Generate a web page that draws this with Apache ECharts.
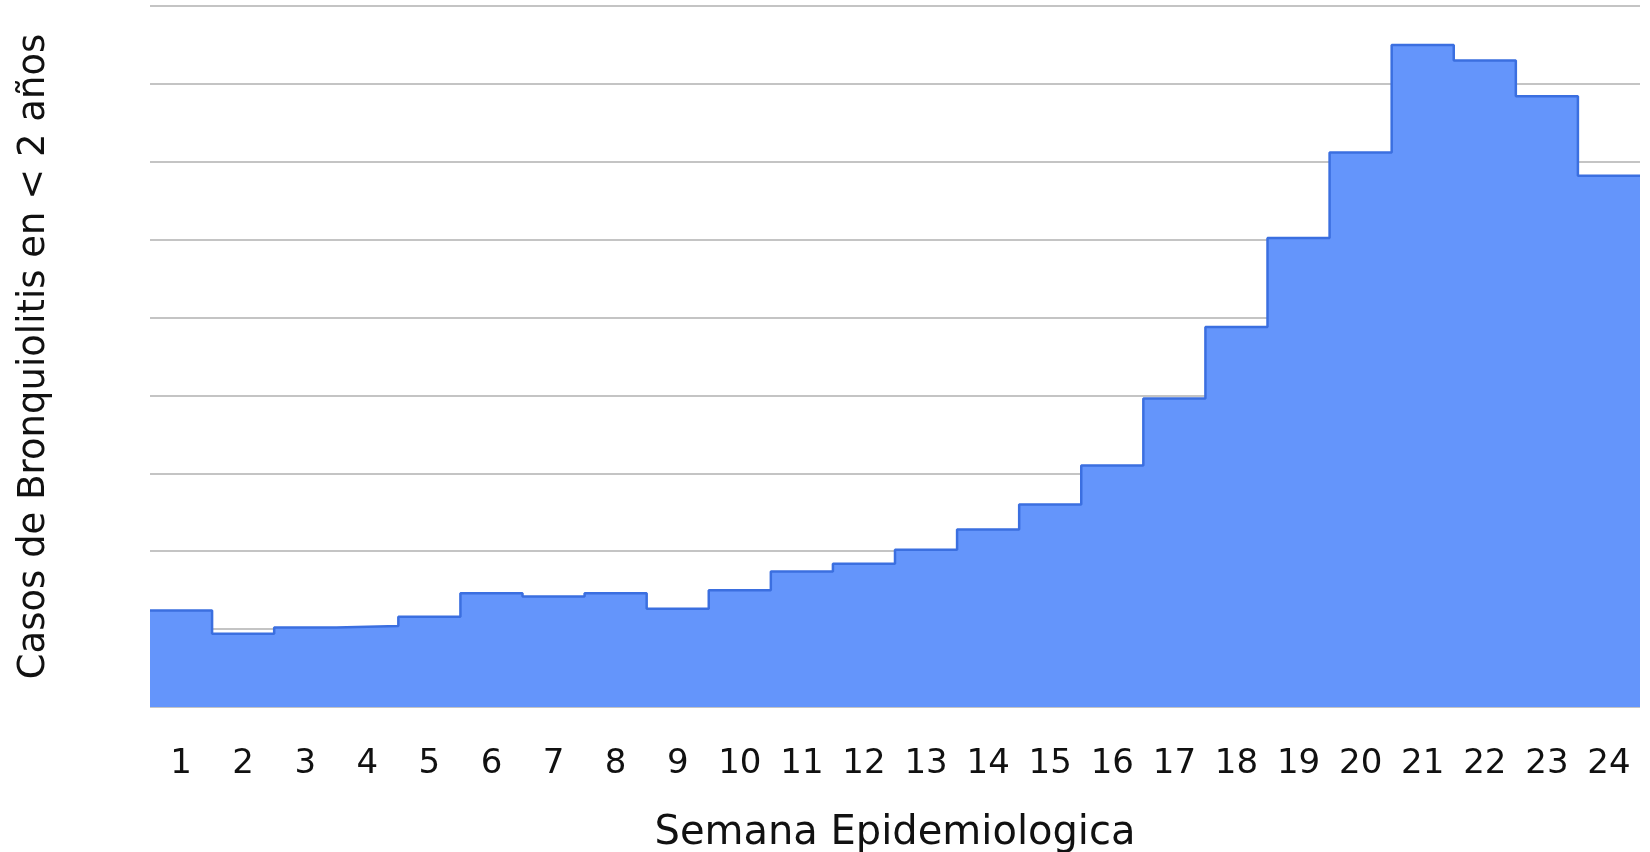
<!DOCTYPE html>
<html>
<head>
<meta charset="utf-8">
<script src="https://cdn.jsdelivr.net/npm/echarts@6/dist/echarts.min.js"></script>
<style>
html,body{margin:0;padding:0;background:#fff;}
#chart{width:1650px;height:852px;}
</style>
</head>
<body>
<div id="chart"></div>
<script>
// Epidemiological weeks
var weeks = ['1','2','3','4','5','6','7','8','9','10','11','12','13','14','15','16','17','18','19','20','21','22','23','24'];
// Cases (estimated, axis has no labels; one gridline = 50)
var cases = [62, 47, 51, 52, 58, 73, 71, 73, 63, 75, 87, 92, 101, 114, 130, 155, 198, 244, 301, 356, 425, 415, 392, 341];

var xTitle = 'Semana Epidemiologica';
var yTitle = 'Casos de Bronquiolitis en < 2 años';

// step line points on hidden value axis: each week spans [i, i+1]
var stepData = cases.map(function (v, i) { return [i, v]; });
stepData.push([cases.length, cases[cases.length - 1]]);

var FONT = '"DejaVu Sans", "Open Sans", sans-serif';
var chart = echarts.init(document.getElementById('chart'));
chart.setOption({
  animation: false,
  backgroundColor: '#ffffff',
  grid: { left: 150, right: 10, top: 6, bottom: 145, containLabel: false, outerBoundsMode: 'none' },
  xAxis: [
    {
      type: 'category',
      data: weeks,
      boundaryGap: true,
      axisTick: { show: false },
      axisLine: { show: false },
      axisLabel: { color: '#111111', fontSize: 34, fontFamily: FONT, margin: 40 },
      name: xTitle,
      nameLocation: 'middle',
      nameGap: 107,
      nameTextStyle: { color: '#111111', fontSize: 40, fontFamily: FONT }
    },
    {
      type: 'value',
      min: 0,
      max: cases.length,
      show: false
    }
  ],
  yAxis: {
    type: 'value',
    min: 0,
    max: 450,
    interval: 50,
    axisLabel: { show: false },
    axisTick: { show: false },
    axisLine: { show: false },
    splitLine: { lineStyle: { color: '#c4c4c4', width: 2 } },
    name: yTitle,
    nameLocation: 'middle',
    nameGap: 97,
    nameRotate: 90,
    nameTextStyle: { color: '#111111', fontSize: 37, fontFamily: FONT }
  },
  series: [{
    type: 'line',
    xAxisIndex: 1,
    step: 'end',
    data: stepData,
    symbol: 'none',
    lineStyle: { color: '#3b6fe0', width: 2.5 },
    areaStyle: { color: '#6495fb', opacity: 1 },
    z: 3
  }]
});
</script>
</body>
</html>
